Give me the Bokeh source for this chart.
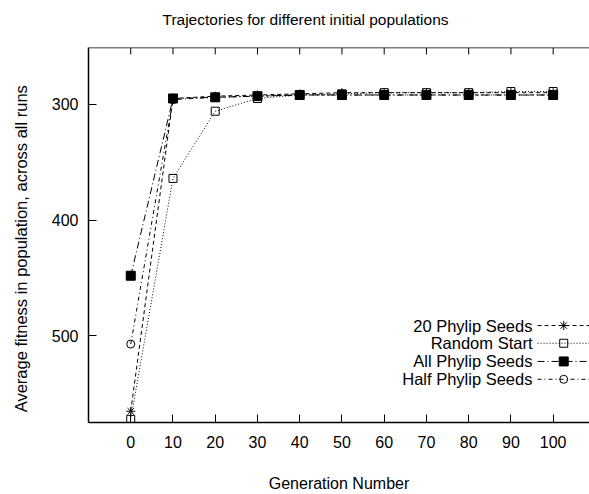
from bokeh.plotting import figure
from bokeh.models import Range1d, FixedTicker, Span
from bokeh.core.properties import value
from bokeh.embed import file_html
from bokeh.resources import INLINE

generations = [0, 10, 20, 30, 40, 50, 60, 70, 80, 90, 100]
phylip20 = [565, 295, 293, 292, 291, 290, 290, 290, 290, 290, 290]
random_start = [572, 364, 306, 295, 292, 291, 290, 290, 290, 289, 289]
all_phylip = [448, 295, 294, 293, 292, 292, 292, 292, 292, 292, 292]
half_phylip = [507, 296, 294, 293, 292, 292, 292, 292, 292, 292, 292]

x_ticks = [0, 10, 20, 30, 40, 50, 60, 70, 80, 90, 100]
y_ticks = [300, 400, 500]

series = [
    ("20 Phylip Seeds", phylip20, "4 3", "asterisk", 9, None),
    ("Random Start", random_start, "1 2", "square", 8, None),
    ("All Phylip Seeds", all_phylip, "7 3 1 3", "square", 9, "black"),
    ("Half Phylip Seeds", half_phylip, "4 3 1 3", "circle", 8, None),
]

FONT = "Liberation Sans"
Y_TOP, Y_BOTTOM = 251.0, 574.7

p = figure(width=589, height=494, output_backend="svg", toolbar_location=None,
           title="Trajectories for different initial populations\n",
           x_range=Range1d(-10, 108.6), y_range=Range1d(Y_BOTTOM, Y_TOP),
           min_border_left=88, min_border_right=0, min_border_top=47, min_border_bottom=68)
p.outline_line_color = None
p.xgrid.visible = False
p.ygrid.visible = False
p.background_fill_color = "white"

p.title.align = "left"
p.title.offset = 74
p.title.vertical_align = "top"
p.title.standoff = 2
p.title.text_font = FONT
p.title.text_font_size = "15.5px"
p.title.text_font_style = "normal"
p.title.text_color = "black"

def style_axis(ax):
    ax.axis_line_color = "black"
    ax.axis_line_width = 1.5
    ax.major_tick_in = 8
    ax.major_tick_out = 0
    ax.major_tick_line_color = "black"
    ax.minor_tick_line_color = None
    ax.major_label_text_font = FONT
    ax.major_label_text_font_size = "16px"
    ax.major_label_text_color = "black"
    ax.axis_label_text_font = FONT
    ax.axis_label_text_font_size = "16px"
    ax.axis_label_text_font_style = "normal"
    ax.axis_label_text_color = "black"

xa = p.xaxis[0]
xa.ticker = FixedTicker(ticks=x_ticks)
style_axis(xa)
xa.major_label_standoff = 13
xa.axis_label = "Generation Number"
xa.axis_label_standoff = 24

ya = p.yaxis[0]
ya.ticker = FixedTicker(ticks=y_ticks)
style_axis(ya)
ya.major_label_standoff = 10
ya.axis_label = "Average fitness in population, across all runs" + "\u00a0" * 6
ya.axis_label_text_font_size = "16.5px"
ya.axis_label_standoff = 19

# top border with mirrored ticks (gnuplot style)
p.add_layout(Span(location=Y_TOP, dimension="width", line_color="black", line_width=1.5))
tick_len = 7 / 1.17
p.segment(x0=x_ticks, y0=[Y_TOP] * len(x_ticks), x1=x_ticks,
          y1=[Y_TOP + tick_len] * len(x_ticks), line_color="black", line_width=1)

for name, ys, dash, marker, size, fill in series:
    p.line(generations, ys, line_color="black", line_width=1, line_dash=dash)
    p.scatter(generations, ys, marker=marker, size=size, line_color="black",
              line_width=1, fill_color=fill)

# legend (lower right, gnuplot style: label left of sample)
leg_text_x = 95.1
leg_x0, leg_x1, leg_mx = 96.3, 109.0, 102.5
leg_rows = [491.0, 506.3, 522.0, 537.4]
for (name, ys, dash, marker, size, fill), ly in zip(series, leg_rows):
    p.text([leg_text_x], [ly], text=[name], text_align="right", text_baseline="middle",
           text_font=value(FONT), text_font_size="16.5px", text_color="black")
    p.line([leg_x0, leg_x1], [ly, ly], line_color="black", line_width=1, line_dash=dash)
    p.scatter([leg_mx], [ly], marker=marker, size=size, line_color="black",
              line_width=1, fill_color=fill)

open("out.html", "w").write(file_html(p, INLINE))
